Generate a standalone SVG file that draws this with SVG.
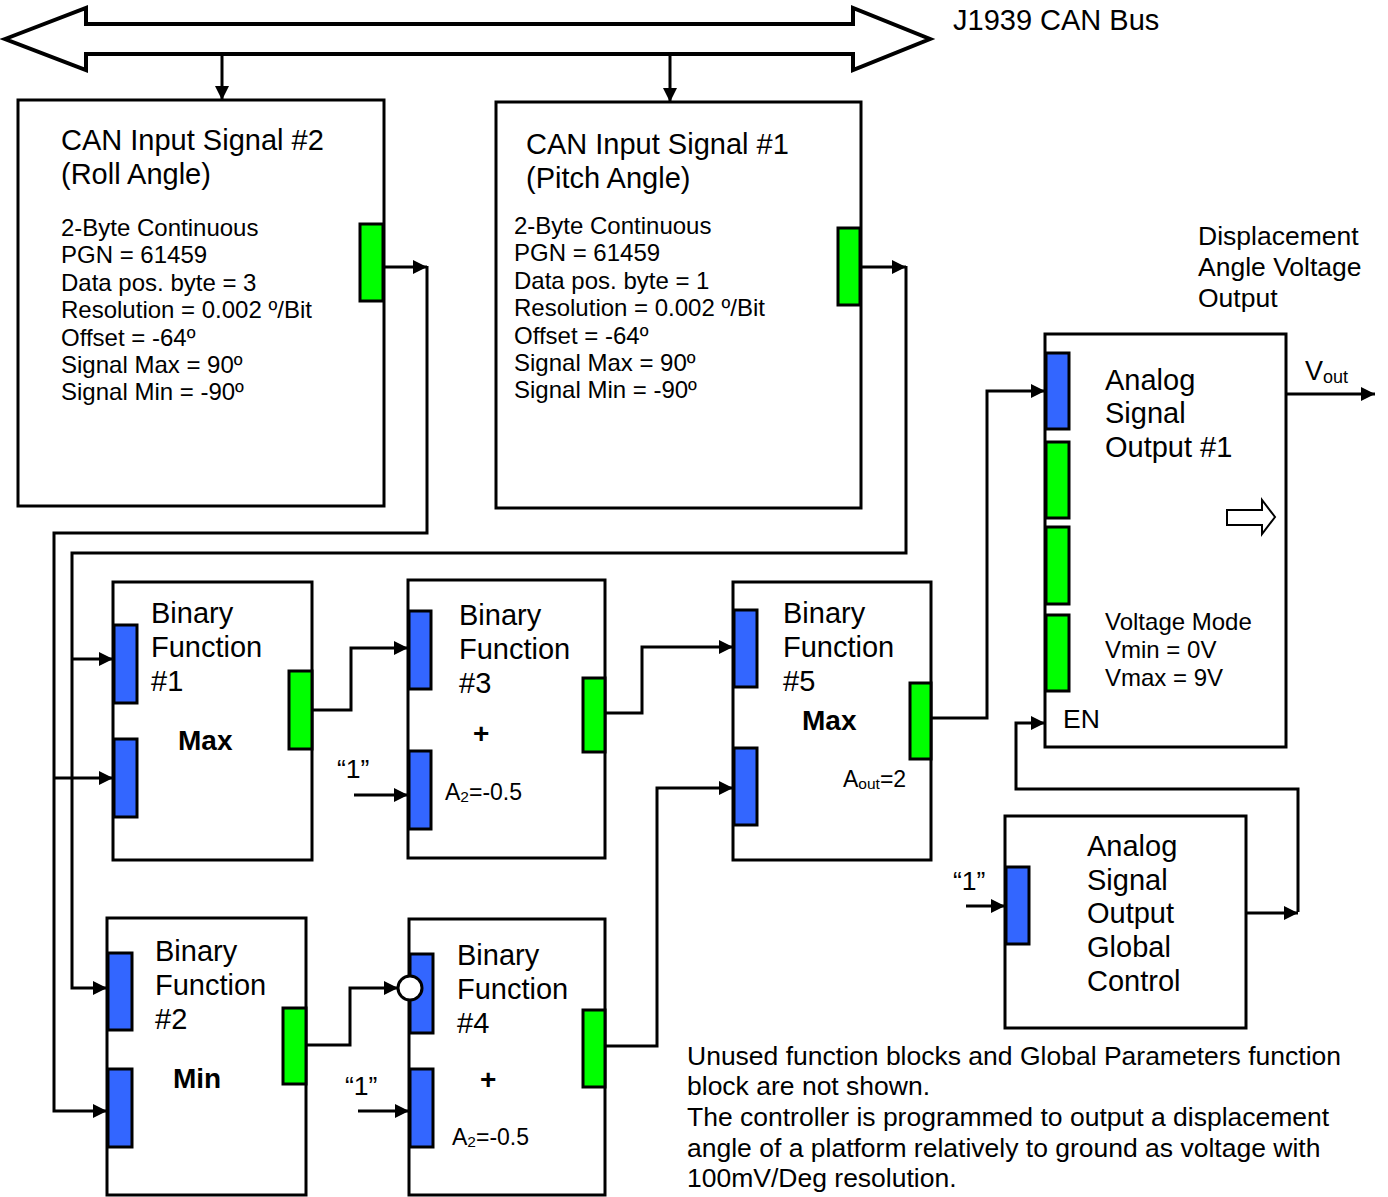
<svg xmlns="http://www.w3.org/2000/svg" width="1388" height="1197" viewBox="0 0 1388 1197">
<style>
text{font-family:"Liberation Sans",Arial,sans-serif;fill:#000}
.box{fill:#fff;stroke:#000;stroke-width:3}
.in{fill:#3366ff;stroke:#000;stroke-width:3}
.out{fill:#00ff00;stroke:#000;stroke-width:3}
.ln{fill:none;stroke:#000;stroke-width:3}
.t29{font-size:29px}
.t26{font-size:26.5px}
.t24{font-size:24px}
.b{font-size:28px;font-weight:bold}
</style>
<defs>
<marker id="ah" viewBox="0 0 10 10" refX="10" refY="5" markerWidth="15" markerHeight="14" markerUnits="userSpaceOnUse" orient="auto"><path d="M0,0 L10,5 L0,10 z" fill="#000"/></marker>
</defs>
<rect width="1388" height="1197" fill="#fff"/>

<g id="bus">
<polygon points="5,39 86,8 86,24 853,24 853,8 930,39 853,70 853,54 86,54 86,70" fill="#fff" stroke="#000" stroke-width="4" stroke-linejoin="miter"/>
<text x="953" y="30" font-size="29">J1939 CAN Bus</text>
</g>

<g id="can2">
<rect class="box" x="18" y="100" width="366" height="406"/>
<rect class="out" x="360" y="224" width="23" height="77"/>
<text x="61" y="150" class="t29">CAN Input Signal #2</text>
<text x="61" y="184" class="t29">(Roll Angle)</text>
<text class="t24" x="61" y="236">2-Byte Continuous</text>
<text class="t24" x="61" y="263">PGN = 61459</text>
<text class="t24" x="61" y="291">Data pos. byte = 3</text>
<text class="t24" x="61" y="318">Resolution = 0.002 º/Bit</text>
<text class="t24" x="61" y="346">Offset = -64º</text>
<text class="t24" x="61" y="373">Signal Max = 90º</text>
<text class="t24" x="61" y="400">Signal Min = -90º</text>
</g>

<g id="can1">
<rect class="box" x="496" y="102" width="365" height="406"/>
<rect class="out" x="838" y="228" width="22" height="77"/>
<text x="526" y="154" class="t29">CAN Input Signal #1</text>
<text x="526" y="188" class="t29">(Pitch Angle)</text>
<text class="t24" x="514" y="234">2-Byte Continuous</text>
<text class="t24" x="514" y="261">PGN = 61459</text>
<text class="t24" x="514" y="289">Data pos. byte = 1</text>
<text class="t24" x="514" y="316">Resolution = 0.002 º/Bit</text>
<text class="t24" x="514" y="344">Offset = -64º</text>
<text class="t24" x="514" y="371">Signal Max = 90º</text>
<text class="t24" x="514" y="398">Signal Min = -90º</text>
</g>

<g id="bf1">
<rect class="box" x="113" y="582" width="199" height="278"/>
<rect class="in" x="114" y="625" width="23" height="78"/>
<rect class="in" x="114" y="739" width="23" height="78"/>
<rect class="out" x="289" y="671" width="23" height="78"/>
<text class="t29" x="151" y="623">Binary</text>
<text class="t29" x="151" y="657">Function</text>
<text class="t29" x="151" y="691">#1</text>
<text class="b" x="178" y="750">Max</text>
</g>

<g id="bf3">
<rect class="box" x="408" y="580" width="197" height="278"/>
<rect class="in" x="409" y="611" width="22" height="78"/>
<rect class="in" x="409" y="751" width="22" height="78"/>
<rect class="out" x="583" y="678" width="22" height="74"/>
<text class="t29" x="459" y="625">Binary</text>
<text class="t29" x="459" y="659">Function</text>
<text class="t29" x="459" y="693">#3</text>
<text class="b" x="473" y="743">+</text>
<text x="445" y="800" font-size="23">A<tspan font-size="15.5" dy="2">2</tspan><tspan dy="-2">=-0.5</tspan></text>
</g>

<g id="bf5">
<rect class="box" x="733" y="582" width="198" height="278"/>
<rect class="in" x="734" y="610" width="23" height="77"/>
<rect class="in" x="734" y="748" width="23" height="77"/>
<rect class="out" x="910" y="683" width="21" height="76"/>
<text class="t29" x="783" y="623">Binary</text>
<text class="t29" x="783" y="657">Function</text>
<text class="t29" x="783" y="691">#5</text>
<text class="b" x="802" y="730">Max</text>
<text x="843" y="787" font-size="23">A<tspan font-size="15.5" dy="2">out</tspan><tspan dy="-2">=2</tspan></text>
</g>

<g id="bf2">
<rect class="box" x="107" y="918" width="199" height="277"/>
<rect class="in" x="108" y="953" width="24" height="77"/>
<rect class="in" x="108" y="1069" width="24" height="78"/>
<rect class="out" x="283" y="1008" width="23" height="76"/>
<text class="t29" x="155" y="961">Binary</text>
<text class="t29" x="155" y="995">Function</text>
<text class="t29" x="155" y="1029">#2</text>
<text class="b" x="173" y="1088">Min</text>
</g>

<g id="bf4">
<rect class="box" x="409" y="919" width="196" height="276"/>
<rect class="in" x="410" y="954" width="23" height="79"/>
<rect class="in" x="410" y="1069" width="23" height="78"/>
<rect class="out" x="583" y="1010" width="22" height="77"/>
<text class="t29" x="457" y="965">Binary</text>
<text class="t29" x="457" y="999">Function</text>
<text class="t29" x="457" y="1033">#4</text>
<text class="b" x="480" y="1089">+</text>
<text x="452" y="1145" font-size="23">A<tspan font-size="15.5" dy="2">2</tspan><tspan dy="-2">=-0.5</tspan></text>
</g>

<g id="aout1">
<rect class="box" x="1045" y="334" width="241" height="413"/>
<rect class="in" x="1046" y="353" width="23" height="76"/>
<rect class="out" x="1046" y="442" width="23" height="76"/>
<rect class="out" x="1046" y="527" width="23" height="77"/>
<rect class="out" x="1046" y="615" width="23" height="76"/>
<text class="t29" x="1105" y="390">Analog</text>
<text class="t29" x="1105" y="423">Signal</text>
<text class="t29" x="1105" y="457">Output #1</text>
<text class="t24" x="1105" y="630">Voltage Mode</text>
<text class="t24" x="1105" y="658">Vmin = 0V</text>
<text class="t24" x="1105" y="686">Vmax = 9V</text>
<text class="t26" x="1063" y="728">EN</text>
<polygon points="1227,510 1262,510 1262,500 1275,517 1262,534 1262,525 1227,525" fill="#fff" stroke="#000" stroke-width="2"/>
</g>

<g id="labels">
<text class="t26" x="1198" y="245">Displacement</text>
<text class="t26" x="1198" y="276">Angle Voltage</text>
<text class="t26" x="1198" y="307">Output</text>
<text x="1305" y="380" font-size="27">V<tspan font-size="18" dy="3">out</tspan></text>
<text class="t26" x="337" y="778">“1”</text>
<text class="t26" x="345" y="1095">“1”</text>
<text class="t26" x="953" y="890">“1”</text>
<text class="t26" x="687" y="1065">Unused function blocks and Global Parameters function</text>
<text class="t26" x="687" y="1095">block are not shown.</text>
<text class="t26" x="687" y="1126">The controller is programmed to output a displacement</text>
<text class="t26" x="687" y="1157">angle of a platform relatively to ground as voltage with</text>
<text class="t26" x="687" y="1187">100mV/Deg resolution.</text>
</g>

<g id="gctrl">
<rect class="box" x="1005" y="816" width="241" height="212"/>
<rect class="in" x="1006" y="867" width="23" height="77"/>
<text class="t29" x="1087" y="856">Analog</text>
<text class="t29" x="1087" y="890">Signal</text>
<text class="t29" x="1087" y="923">Output</text>
<text class="t29" x="1087" y="957">Global</text>
<text class="t29" x="1087" y="991">Control</text>
</g>

<g id="connectors">
<path class="ln" d="M222,54 V100" marker-end="url(#ah)"/>
<path class="ln" d="M670,54 V102" marker-end="url(#ah)"/>
<path class="ln" d="M383,267 H427" marker-end="url(#ah)"/>
<path class="ln" d="M427,266 V533 H54 V1111 H107" marker-end="url(#ah)"/>
<path class="ln" d="M54,778 H113" marker-end="url(#ah)"/>
<path class="ln" d="M861,267 H906" marker-end="url(#ah)"/>
<path class="ln" d="M906,266 V553 H72 V988 H107" marker-end="url(#ah)"/>
<path class="ln" d="M72,659 H113" marker-end="url(#ah)"/>
<path class="ln" d="M312,710 H351 V648 H408" marker-end="url(#ah)"/>
<path class="ln" d="M354,795 H408" marker-end="url(#ah)"/>
<path class="ln" d="M605,713 H642 V647 H733" marker-end="url(#ah)"/>
<path class="ln" d="M605,1046 H657 V788 H733" marker-end="url(#ah)"/>
<path class="ln" d="M306,1045 H350 V988 H398" marker-end="url(#ah)"/>
<circle cx="410" cy="988" r="12" fill="#fff" stroke="#000" stroke-width="3"/>
<path class="ln" d="M358,1111 H409" marker-end="url(#ah)"/>
<path class="ln" d="M931,718 H987 V391 H1045" marker-end="url(#ah)"/>
<path class="ln" d="M1246,913 H1298" marker-end="url(#ah)"/>
<path class="ln" d="M1298,912 V789 H1016 V723 H1045" marker-end="url(#ah)"/>
<path class="ln" d="M966,906 H1005" marker-end="url(#ah)"/>
<path class="ln" d="M1286,394 H1375" marker-end="url(#ah)"/>
</g>
</svg>
